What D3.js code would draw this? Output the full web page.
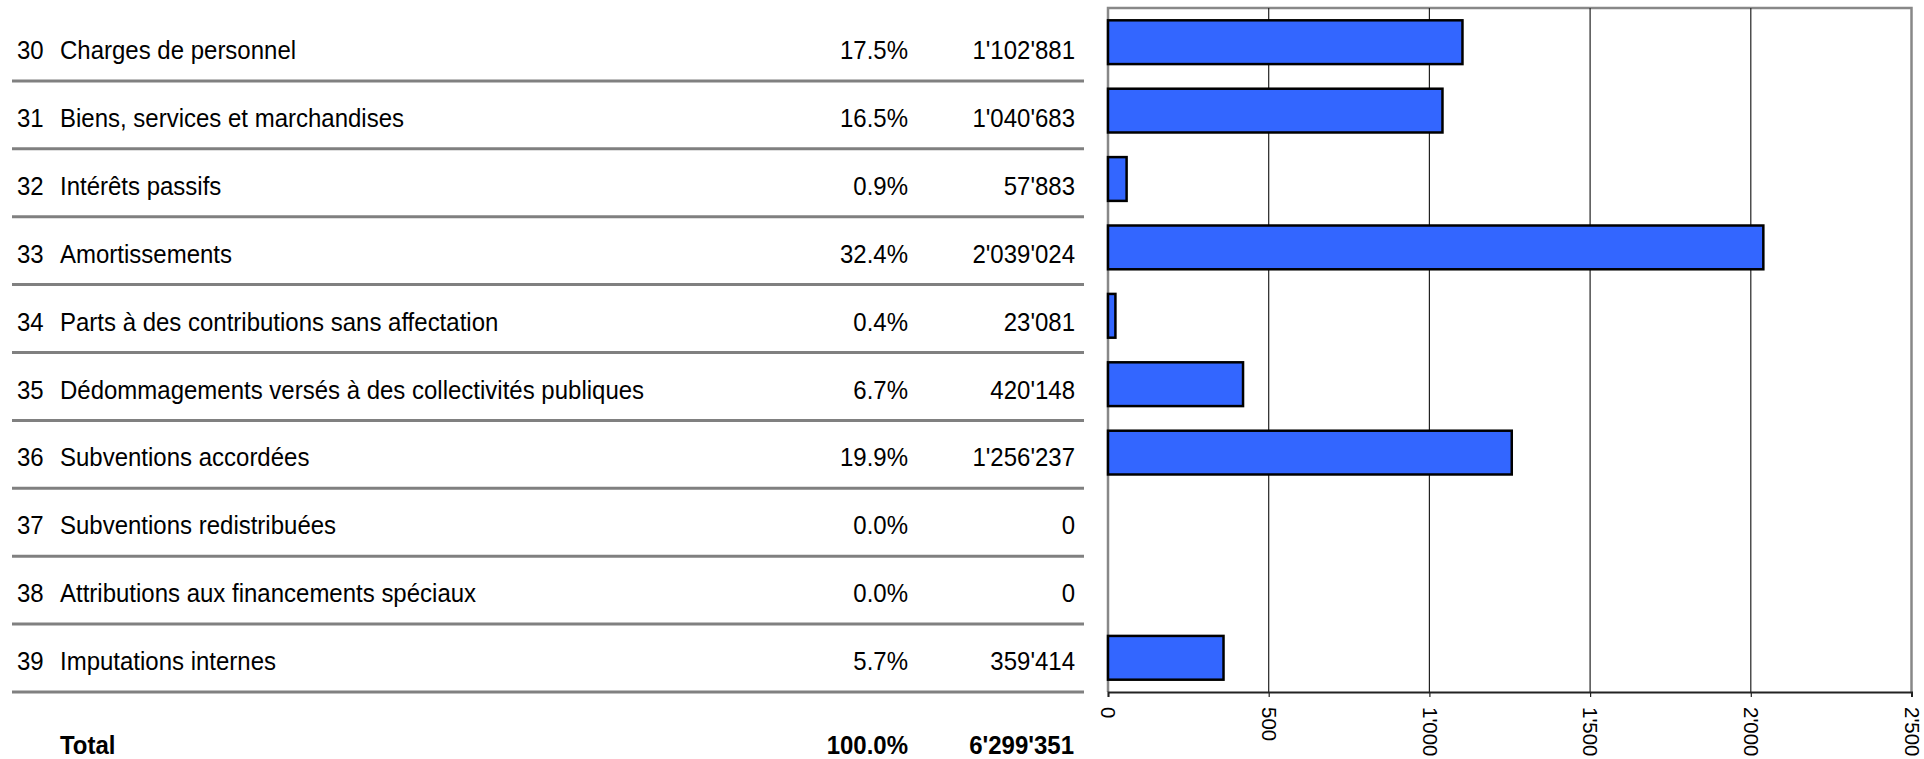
<!DOCTYPE html>
<html><head><meta charset="utf-8">
<script src="https://cdn.jsdelivr.net/npm/d3@7"></script>
<style>html,body{margin:0;padding:0;background:#fff;}svg{display:block;font-family:"Liberation Sans",Arial,sans-serif;}</style>
</head><body>
<svg id="c" width="1924" height="759"></svg>
<script>
const codes = ["30","31","32","33","34","35","36","37","38","39"];
const labels = ["Charges de personnel","Biens, services et marchandises","Intérêts passifs","Amortissements","Parts à des contributions sans affectation","Dédommagements versés à des collectivités publiques","Subventions accordées","Subventions redistribuées","Attributions aux financements spéciaux","Imputations internes"];
const percents = ["17.5%","16.5%","0.9%","32.4%","0.4%","6.7%","19.9%","0.0%","0.0%","5.7%"];
const amounts = ["1'102'881","1'040'683","57'883","2'039'024","23'081","420'148","1'256'237","0","0","359'414"];
const values = [1102.881,1040.683,57.883,2039.024,23.081,420.148,1256.237,0,0,359.414];
const totalLabel = "Total", totalPercent = "100.0%", totalAmount = "6'299'351";
const xTicks = [0,500,1000,1500,2000,2500];

(function(){
const svg = d3.select("#c");
const fs = 24;
const sy = 1.08;
const x = d3.scaleLinear().domain([0,2500]).range([1108,1911.5]);
const y = d3.scaleBand().domain(codes).range([8,692]).paddingInner(0.36).paddingOuter(0.18);
const ty = d3.scaleBand().domain(codes).range([13,692]);
const fmt = v => d3.format(",")(v).replace(/,/g,"'");

function txt(g, tx, tyy, s, anchor, bold){
  return g.append("text").attr("transform",`translate(${tx},${tyy}) scale(1,${sy})`)
    .attr("dy","0.35em").attr("font-size",fs).attr("fill","#000")
    .attr("text-anchor",anchor||"start").attr("font-weight",bold?"bold":"normal").text(s);
}

// table
const rows = svg.append("g");
codes.forEach((c,i)=>{
  const cy = ty(c) + ty.bandwidth()/2 + 3;
  txt(rows, 17, cy, c);
  txt(rows, 60, cy, labels[i]);
  txt(rows, 908, cy, percents[i], "end");
  txt(rows, 1075, cy, amounts[i], "end");
  rows.append("line").attr("x1",12).attr("x2",1084).attr("y1",ty(c)+ty.bandwidth()).attr("y2",ty(c)+ty.bandwidth()).attr("stroke","#808080").attr("stroke-width",3);
});
const ty2 = 745;
txt(rows, 60, ty2, totalLabel, "start", true);
txt(rows, 908, ty2, totalPercent, "end", true);
txt(rows, 1074, ty2, totalAmount, "end", true);

// plot frame
const pTop = 8, pBot = 692;
svg.append("path").attr("d",`M${x(0)},${pBot}V${pTop}H${x(2500)}V${pBot}`).attr("fill","none").attr("stroke","#888").attr("stroke-width",2.5);
// gridlines
svg.append("g").selectAll("line").data(xTicks.slice(1,-1)).join("line")
  .attr("x1",d=>x(d)).attr("x2",d=>x(d)).attr("y1",pTop).attr("y2",pBot).attr("stroke","#222").attr("stroke-width",1.2);

// bars
svg.append("g").selectAll("rect").data(values.map((v,i)=>({v,c:codes[i]})).filter(d=>d.v>0)).join("rect")
  .attr("x",x(0)).attr("y",d=>y(d.c)).attr("width",d=>x(d.v)-x(0)).attr("height",y.bandwidth())
  .attr("fill","#3366ff").attr("stroke","#000").attr("stroke-width",2.5);

// axis
const ax = svg.append("g").attr("transform",`translate(0,${pBot})`)
  .call(d3.axisBottom(x).tickValues(xTicks).tickSize(5).tickPadding(0).tickFormat(fmt));
ax.select(".domain").attr("stroke","#222").attr("stroke-width",2);
ax.selectAll(".tick line").attr("stroke","#222").attr("stroke-width",1.2);
ax.selectAll(".tick text").attr("font-size",20.5).attr("font-family","Liberation Sans, Arial, sans-serif").attr("fill","#000")
  .attr("transform","rotate(90)").attr("text-anchor","start").attr("x",15).attr("y",0).attr("dy","0.35em");
})();
</script>
</body></html>
